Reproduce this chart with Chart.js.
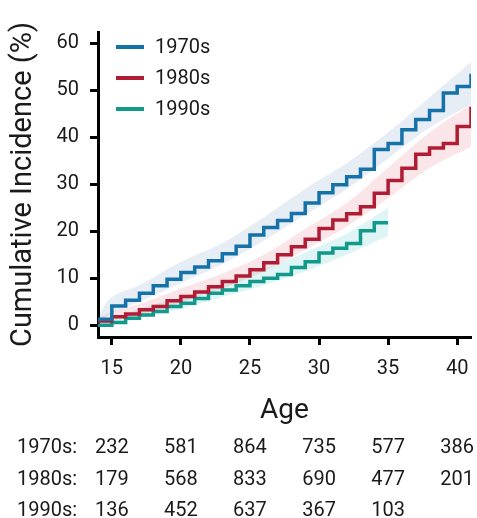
<!DOCTYPE html>
<html>
<head>
<meta charset="utf-8">
<script src="https://cdn.jsdelivr.net/npm/chart.js@4.4.0/dist/chart.umd.min.js"></script>
<style>
    html, body { margin: 0; padding: 0; background: #fff; }
    #wrap { width: 477px; height: 518px; }
</style>
</head>
<body>
<div id="wrap"><canvas id="incidence-chart" width="477" height="518"></canvas></div>
<script>
// Cumulative incidence by birth decade (step curves + confidence bands)
const seriesLabels = ['1970s', '1980s', '1990s'];
const lineColors = ['#1572a9', '#b11c35', '#11998b'];
const bandColors = ['rgba(60, 110, 175, 0.12)', 'rgba(215, 60, 80, 0.13)', 'rgba(40, 180, 180, 0.15)'];

const ages70 = [14, 15, 16, 17, 18, 19, 20, 21, 22, 23, 24, 25, 26, 27, 28, 29, 30, 31, 32, 33, 34, 35, 36, 37, 38, 39, 40, 41];
const inc70 = [1.3, 4.1, 5.3, 6.8, 8.4, 9.8, 11.2, 12.4, 13.7, 15.2, 16.8, 19.2, 20.8, 22.3, 23.8, 26.0, 28.2, 29.9, 31.6, 33.2, 37.4, 38.7, 41.6, 43.8, 45.7, 49.4, 50.8, 53.5];

const ages80 = [14, 15, 16, 17, 18, 19, 20, 21, 22, 23, 24, 25, 26, 27, 28, 29, 30, 31, 32, 33, 34, 35, 36, 37, 38, 39, 40, 41];
const inc80 = [0.9, 1.8, 2.4, 3.3, 4.0, 5.2, 6.1, 7.1, 8.2, 9.3, 10.5, 11.8, 13.3, 15.0, 16.7, 18.3, 20.6, 22.4, 23.7, 25.2, 28.1, 30.8, 33.4, 36.4, 37.7, 38.7, 42.3, 46.5];

const ages90 = [14, 15, 16, 17, 18, 19, 20, 21, 22, 23, 24, 25, 26, 27, 28, 29, 30, 31, 32, 33, 34, 35];
const inc90 = [0.0, 0.6, 1.5, 2.2, 2.9, 4.0, 4.7, 5.7, 6.8, 7.5, 8.4, 9.3, 10.0, 10.8, 12.3, 13.5, 15.4, 16.4, 17.4, 20.1, 21.8, 21.8];

// confidence band edges
const bandAges70 = [14, 15, 17, 20, 23, 26, 29, 32, 35, 38, 41];
const low70 = [0.8, 2.5, 5.0, 9.0, 13.0, 18.0, 23.5, 29.0, 35.5, 42.0, 47.0];
const high70 = [2.0, 6.0, 8.5, 13.5, 17.5, 23.0, 29.0, 34.5, 41.0, 48.5, 56.0];

const bandAges80 = [14, 15, 17, 20, 23, 26, 29, 32, 35, 38, 41];
const low80 = [0.5, 1.0, 2.2, 4.8, 7.8, 11.5, 16.0, 21.0, 27.0, 33.5, 38.0];
const high80 = [1.5, 2.8, 4.5, 7.8, 11.0, 15.0, 20.5, 26.0, 33.5, 41.0, 47.0];

const bandAges90 = [14, 15, 17, 20, 23, 26, 29, 32, 35];
const low90 = [-0.3, 0.0, 1.5, 3.5, 6.0, 8.5, 11.5, 15.0, 19.0];
const high90 = [0.5, 1.2, 3.5, 6.0, 9.0, 12.0, 15.5, 19.5, 25.0];

const xTicks = [15, 20, 25, 30, 35, 40];
const yTicks = [0, 10, 20, 30, 40, 50, 60];

// numbers at risk
const riskAges = [15, 20, 25, 30, 35, 40];
const risk70 = [232, 581, 864, 735, 577, 386];
const risk80 = [179, 568, 833, 690, 477, 201];
const risk90 = [136, 452, 637, 367, 103];

const FONT = 'Roboto, "Liberation Sans", sans-serif';
const TEXT = '#1a1a1a';

function toPoints(xs, ys) {
    return xs.map((x, i) => ({ x: x, y: ys[i] }));
}

function stepLine(i, xs, ys) {
    return {
        label: seriesLabels[i],
        data: toPoints(xs, ys),
        borderColor: lineColors[i],
        borderWidth: 3.5,
        stepped: true,
        fill: false,
        pointRadius: 0,
        order: 0
    };
}

function band(i, xs, lo, hi) {
    return [{
        label: seriesLabels[i] + ' low',
        data: toPoints(xs, lo),
        borderWidth: 0,
        pointRadius: 0,
        tension: 0.3,
        fill: '+1',
        backgroundColor: bandColors[i],
        order: 1
    }, {
        label: seriesLabels[i] + ' high',
        data: toPoints(xs, hi),
        borderWidth: 0,
        pointRadius: 0,
        tension: 0.3,
        fill: false,
        order: 1
    }];
}

const legendPlugin = {
    id: 'insideLegend',
    afterDraw(chart) {
        const ctx = chart.ctx;
        ctx.save();
        ctx.font = `20px ${FONT}`;
        ctx.textBaseline = 'middle';
        ctx.textAlign = 'left';
        seriesLabels.forEach((label, i) => {
            const y = 47 + i * 31;
            ctx.strokeStyle = lineColors[i];
            ctx.lineWidth = 4;
            ctx.beginPath();
            ctx.moveTo(116, y);
            ctx.lineTo(144, y);
            ctx.stroke();
            ctx.fillStyle = TEXT;
            ctx.fillText(label, 155, y + 1);
        });
        ctx.restore();
    }
};

const riskTablePlugin = {
    id: 'riskTable',
    afterDraw(chart) {
        const ctx = chart.ctx;
        const x = chart.scales.x;
        const rows = [risk70, risk80, risk90];
        ctx.save();
        ctx.font = `20px ${FONT}`;
        ctx.fillStyle = TEXT;
        ctx.textBaseline = 'middle';
        rows.forEach((counts, r) => {
            const y = 448 + r * 31.5;
            ctx.textAlign = 'left';
            ctx.fillText(seriesLabels[r] + ':', 17, y);
            ctx.textAlign = 'center';
            counts.forEach((n, i) => {
                ctx.fillText(String(n), x.getPixelForValue(riskAges[i]), y);
            });
        });
        ctx.restore();
    }
};

const ctx = document.getElementById('incidence-chart');

new Chart(ctx, {
    type: 'line',
    data: {
        datasets: [
            stepLine(0, ages70, inc70),
            stepLine(1, ages80, inc80),
            stepLine(2, ages90, inc90),
            ...band(0, bandAges70, low70, high70),
            ...band(1, bandAges80, low80, high80),
            ...band(2, bandAges90, low90, high90)
        ]
    },
    options: {
        responsive: false,
        animation: false,
        layout: {
            padding: { left: 0, right: 6, top: 32, bottom: 86 }
        },
        plugins: {
            legend: { display: false },
            tooltip: { enabled: false }
        },
        scales: {
            x: {
                type: 'linear',
                min: 14,
                max: 41,
                afterBuildTicks: scale => { scale.ticks = xTicks.map(v => ({ value: v })); },
                afterFit: scale => {
                    scale.height = 95;
                    scale.paddingLeft = 0;
                    scale.paddingRight = 0;
                },
                grid: {
                    drawOnChartArea: false,
                    drawTicks: true,
                    tickLength: 8,
                    tickWidth: 3,
                    tickColor: '#000'
                },
                border: { display: true, color: '#000', width: 3 },
                ticks: {
                    color: TEXT,
                    padding: 12,
                    maxRotation: 0,
                    font: { family: FONT, size: 20 }
                },
                title: {
                    display: true,
                    text: 'Age',
                    color: TEXT,
                    font: { family: FONT, size: 28 },
                    padding: { top: 0, bottom: 4 }
                }
            },
            y: {
                type: 'linear',
                min: -2.5,
                max: 62.4,
                afterBuildTicks: scale => { scale.ticks = yTicks.map(v => ({ value: v })); },
                afterFit: scale => {
                    scale.width = 98;
                    scale.paddingTop = 0;
                    scale.paddingBottom = 0;
                },
                grid: {
                    drawOnChartArea: false,
                    drawTicks: true,
                    tickLength: 8,
                    tickWidth: 3,
                    tickColor: '#000'
                },
                border: { display: true, color: '#000', width: 3 },
                ticks: {
                    color: TEXT,
                    padding: 11,
                    font: { family: FONT, size: 20 }
                },
                title: {
                    display: true,
                    text: 'Cumulative Incidence (%)',
                    color: TEXT,
                    font: { family: FONT, size: 29 },
                    padding: { top: 6, bottom: 0 }
                }
            }
        }
    },
    plugins: [legendPlugin, riskTablePlugin]
});
</script>
</body>
</html>
